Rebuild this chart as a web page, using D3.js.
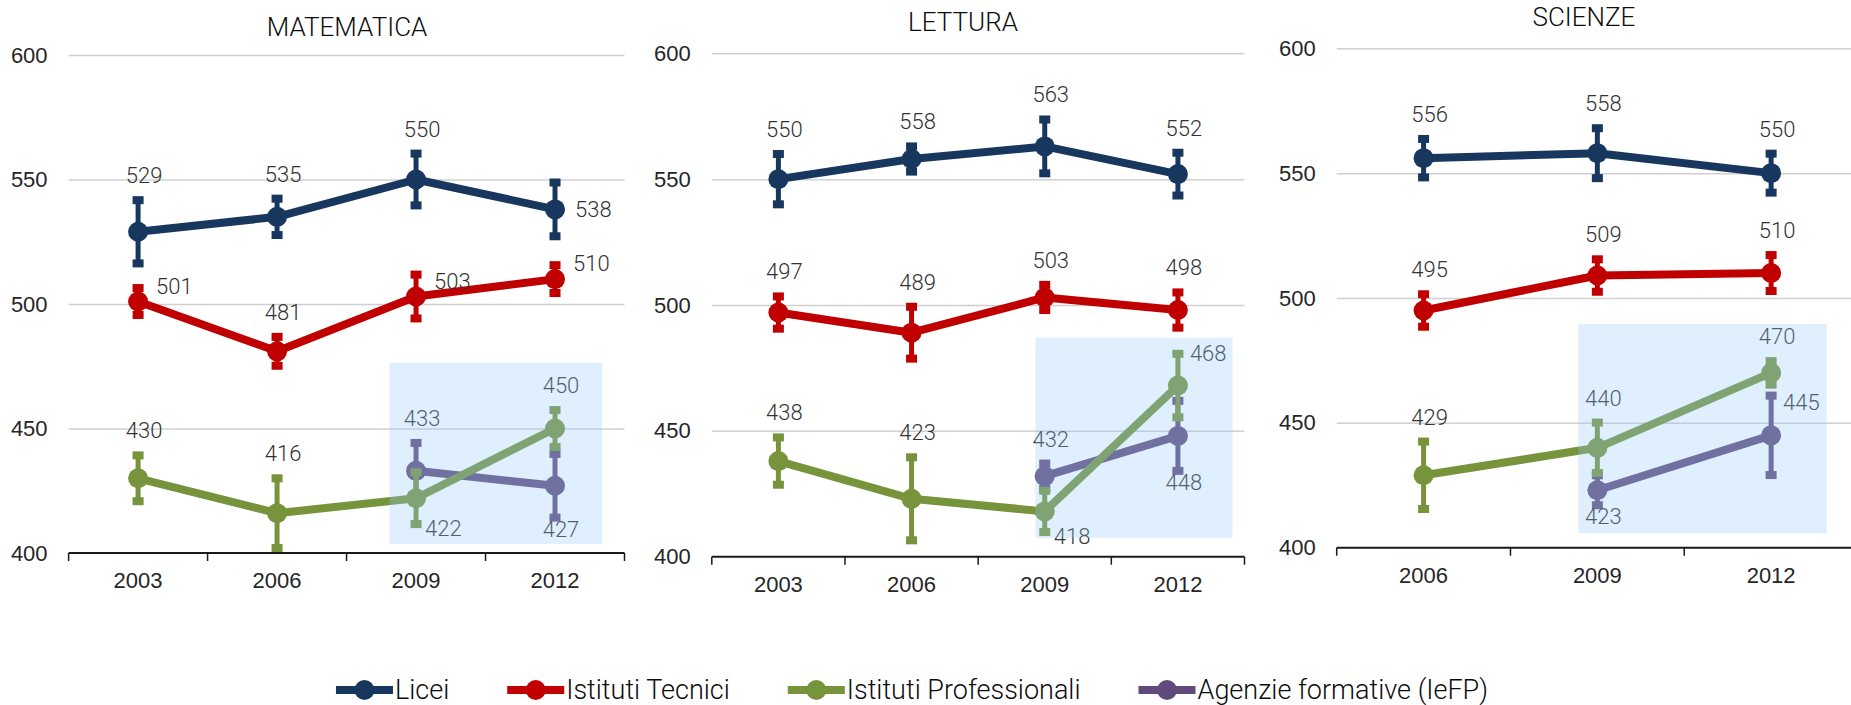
<!DOCTYPE html>
<html>
<head>
<meta charset="utf-8">
<script src="https://cdn.jsdelivr.net/npm/d3@7"></script>
<style>
  body { margin: 0; background: #fff; }
  svg { display: block; font-family: Roboto, "DejaVu Sans", sans-serif; font-weight: 300; }
</style>
</head>
<body>
<script>
// Series shared by the three panels
const seriesNames = ['Licei', 'Istituti Tecnici', 'Istituti Professionali', 'Agenzie formative (IeFP)'];
const seriesColors = ['#17375e', '#c00000', '#77933c', '#604a7b'];
const yTicks = [400, 450, 500, 550, 600];

// MATEMATICA
const mathYears = ['2003', '2006', '2009', '2012'];
const mathLicei = [529, 535, 550, 538];
const mathLiceiErr = [12.7, 7.3, 10.4, 10.8];
const mathTecnici = [501, 481, 503, 510];
const mathTecniciErr = [5.4, 5.8, 8.8, 5.6];
const mathProf = [430, 416, 422, 450];
const mathProfErr = [9.2, 14, 10.4, 7.4];
const mathIefp = [null, null, 433, 427];
const mathIefpErr = [null, null, 11.2, 12.8];

// LETTURA
const readYears = ['2003', '2006', '2009', '2012'];
const readLicei = [550, 558, 563, 552];
const readLiceiErr = [10, 5, 10.7, 8.5];
const readTecnici = [497, 489, 503, 498];
const readTecniciErr = [6.4, 10.3, 5, 7];
const readProf = [438, 423, 418, 468];
const readProfErr = [9.4, 16.5, 8.2, 12.6];
const readIefp = [null, null, 432, 448];
const readIefpErr = [null, null, 5, 13.9];

// SCIENZE
const sciYears = ['2006', '2009', '2012'];
const sciLicei = [556, 558, 550];
const sciLiceiErr = [7.7, 10, 7.8];
const sciTecnici = [495, 509, 510];
const sciTecniciErr = [6.5, 6.5, 7.2];
const sciProf = [429, 440, 470];
const sciProfErr = [13.5, 10.1, 4.7];
const sciIefp = [null, 423, 445];
const sciIefpErr = [null, 6, 15.9];

// Where each value label sits: T above bar, R right, UR upper right,
// TR top right, B below, BR below right
const mathLabelPos = [['T', 'T', 'T', 'R'], ['UR', 'T', 'UR', 'UR'], ['T', 'T', 'BR', 'T'], [null, null, 'T', 'B']];
const readLabelPos = [['T', 'T', 'T', 'T'], ['T', 'T', 'T', 'T'], ['T', 'T', 'BR', 'TR'], [null, null, 'T', 'B']];
const sciLabelPos = [['T', 'T', 'T'], ['T', 'T', 'T'], ['T', 'T', 'T'], [null, 'B', 'TR']];

const width = 1851;
const height = 705;

const svg = d3.select('body').append('svg')
  .attr('width', width)
  .attr('height', height);

// Panel layout (pixel frame of each plot area)
const panels = [
  {
    title: 'MATEMATICA', titleX: 347, titleY: 36,
    years: mathYears, x0: 68.6, x1: 624.5, yTop: 55, yBottom: 553,
    values: [mathLicei, mathTecnici, mathProf, mathIefp],
    errors: [mathLiceiErr, mathTecniciErr, mathProfErr, mathIefpErr],
    labelPos: mathLabelPos,
    box: { from: '2009', fromOff: -0.19, to: '2012', toOff: 0.34, top: 476.3, bottom: 403.6 }
  },
  {
    title: 'LETTURA', titleX: 963, titleY: 31,
    years: readYears, x0: 711.8, x1: 1244.5, yTop: 53.3, yBottom: 556.7,
    values: [readLicei, readTecnici, readProf, readIefp],
    errors: [readLiceiErr, readTecniciErr, readProfErr, readIefpErr],
    labelPos: readLabelPos,
    box: { from: '2009', fromOff: -0.07, to: '2012', toOff: 0.41, top: 487, bottom: 407.4 }
  },
  {
    title: 'SCIENZE', titleX: 1584, titleY: 26,
    years: sciYears, x0: 1336.7, x1: 1858, yTop: 48.3, yBottom: 547.7,
    values: [sciLicei, sciTecnici, sciProf, sciIefp],
    errors: [sciLiceiErr, sciTecniciErr, sciProfErr, sciIefpErr],
    labelPos: sciLabelPos,
    box: { from: '2009', fromOff: -0.11, to: '2012', toOff: 0.32, top: 489.6, bottom: 405.8 }
  }
];

// Series are painted in this order (green goes over purple)
const drawOrder = [0, 1, 3, 2];

/**
 * Draw one panel: grid, axes, lines with error bars, labels and the highlight box
 * @param {object} p - panel settings
 */
function drawPanel(p) {
  const g = svg.append('g');
  const x = d3.scaleBand().domain(p.years).range([p.x0, p.x1]);
  const y = d3.scaleLinear().domain([400, 600]).range([p.yBottom, p.yTop]);
  const cx = d => x(d) + x.bandwidth() / 2;

  // Title
  g.append('text')
    .attr('x', p.titleX).attr('y', p.titleY)
    .attr('text-anchor', 'middle')
    .attr('font-size', 26).attr('fill', '#0d0d0d')
    .text(p.title);

  // Horizontal grid lines
  const grid = g.append('g')
    .attr('transform', `translate(${p.x0},0)`)
    .call(d3.axisLeft(y).tickValues(yTicks.slice(1)).tickSize(-(p.x1 - p.x0)).tickFormat(''));
  grid.select('.domain').remove();
  grid.selectAll('line').attr('stroke', '#d0d0d0').attr('stroke-width', 1.5);

  // Y tick labels
  const yAxis = g.append('g')
    .attr('transform', `translate(${p.x0},0)`)
    .call(d3.axisLeft(y).tickValues(yTicks).tickSize(0).tickPadding(21));
  yAxis.select('.domain').remove();
  yAxis.selectAll('text').attr('font-size', 22).attr('fill', '#262626');

  // X axis with labels in the middle of each band
  const xAxis = g.append('g')
    .attr('transform', `translate(0,${p.yBottom})`)
    .call(d3.axisBottom(x).tickSize(0).tickPadding(19.5));
  xAxis.select('.domain').remove();
  xAxis.selectAll('text').attr('font-size', 22).attr('fill', '#262626');

  g.append('line')
    .attr('x1', p.x0).attr('x2', p.x1)
    .attr('y1', p.yBottom).attr('y2', p.yBottom)
    .attr('stroke', '#1a1a1a').attr('stroke-width', 2);

  // Tick marks at the band edges
  g.selectAll('.edge')
    .data(p.years.map(d => x(d)).concat([p.x1]))
    .enter().append('line')
    .attr('x1', d => d).attr('x2', d => d)
    .attr('y1', p.yBottom).attr('y2', p.yBottom + 8)
    .attr('stroke', '#1a1a1a').attr('stroke-width', 1.5);

  const line = d3.line()
    .defined(d => d.v != null)
    .x(d => cx(d.year))
    .y(d => y(d.v));

  drawOrder.forEach(s => {
    const pts = p.years.map((year, i) => ({ year, v: p.values[s][i], e: p.errors[s][i] }));
    const valid = pts.filter(d => d.v != null);
    const color = seriesColors[s];
    const sg = g.append('g');

    sg.append('path')
      .datum(pts)
      .attr('d', line)
      .attr('fill', 'none')
      .attr('stroke', color)
      .attr('stroke-width', 8)
      .attr('stroke-linejoin', 'round');

    // Error bars
    sg.selectAll('.err')
      .data(valid)
      .enter().append('line')
      .attr('x1', d => cx(d.year)).attr('x2', d => cx(d.year))
      .attr('y1', d => y(d.v + d.e)).attr('y2', d => y(d.v - d.e))
      .attr('stroke', color).attr('stroke-width', 5);

    sg.selectAll('.cap')
      .data(valid.flatMap(d => [d.v + d.e, d.v - d.e].map(v => ({ year: d.year, v }))))
      .enter().append('rect')
      .attr('x', d => cx(d.year) - 5.5)
      .attr('y', d => y(d.v) - 4)
      .attr('width', 11).attr('height', 8)
      .attr('fill', color);

    // Markers
    sg.selectAll('circle')
      .data(valid)
      .enter().append('circle')
      .attr('cx', d => cx(d.year))
      .attr('cy', d => y(d.v))
      .attr('r', 10)
      .attr('fill', color);

    // Value labels
    sg.selectAll('.lbl')
      .data(valid.map(d => Object.assign({ pos: p.labelPos[s][p.years.indexOf(d.year)] }, d)))
      .enter().append('text')
      .attr('font-size', 22)
      .attr('fill', '#333333')
      .each(function (d) {
        const px = cx(d.year);
        const t = d3.select(this);
        let tx = px + 6, ty = y(d.v + d.e) - 17, anchor = 'middle';
        if (d.pos === 'R') { tx = px + 20; ty = y(d.v) + 8; anchor = 'start'; }
        if (d.pos === 'UR') { tx = px + 18; ty = y(d.v) - 8; anchor = 'start'; }
        if (d.pos === 'TR') { tx = px + 12; ty = y(d.v) - 25; anchor = 'start'; }
        if (d.pos === 'B') { tx = px + 6; ty = y(d.v - d.e) + 19; anchor = 'middle'; }
        if (d.pos === 'BR') { tx = px + 9; ty = y(d.v - d.e) + 12; anchor = 'start'; }
        t.attr('x', tx).attr('y', ty).attr('text-anchor', anchor);
      })
      .text(d => d.v);
  });

  // Light blue box laid over the IeFP years
  const b = p.box;
  const bx0 = cx(b.from) + b.fromOff * x.bandwidth();
  const bx1 = cx(b.to) + b.toOff * x.bandwidth();
  g.append('rect')
    .attr('x', bx0).attr('y', y(b.top))
    .attr('width', bx1 - bx0).attr('height', y(b.bottom) - y(b.top))
    .attr('fill', 'rgb(150,201,248)')
    .attr('fill-opacity', 0.3);
}

panels.forEach(drawPanel);

/**
 * Draw the legend centred under the panels
 */
function drawLegend() {
  const lg = svg.append('g');
  const markerW = 57;
  const gap = 58;
  let cursor = 0;
  seriesNames.forEach((name, i) => {
    const item = lg.append('g');
    item.append('line')
      .attr('x1', 0).attr('x2', markerW)
      .attr('stroke', seriesColors[i]).attr('stroke-width', 8);
    item.append('circle')
      .attr('cx', markerW / 2).attr('r', 10)
      .attr('fill', seriesColors[i]);
    const label = item.append('text')
      .attr('x', markerW + 2).attr('y', 9)
      .attr('font-size', 27).attr('fill', '#0d0d0d')
      .text(name);
    const w = markerW + 2 + label.node().getComputedTextLength();
    item.attr('transform', `translate(${cursor},0)`);
    cursor += w + gap;
  });
  const total = cursor - gap;
  lg.attr('transform', `translate(${912 - total / 2},690)`);
}

drawLegend();
</script>
</body>
</html>
